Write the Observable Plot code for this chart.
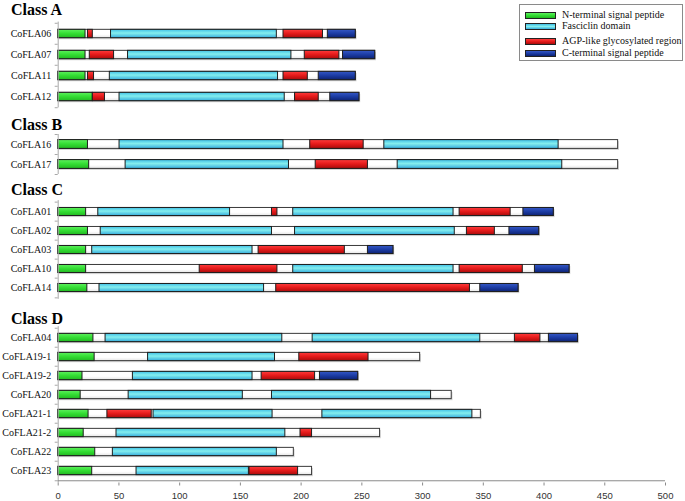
<!DOCTYPE html>
<html><head><meta charset="utf-8">
<script src="https://cdn.jsdelivr.net/npm/d3@7"></script>
<script src="https://cdn.jsdelivr.net/npm/@observablehq/plot@0.6"></script>
<style>
body{margin:0;background:#fff;}
#wrap{position:relative;width:685px;height:501px;overflow:hidden;background:#fff;}
.title{position:absolute;left:11px;font:bold 16px "Liberation Serif",serif;line-height:16px;color:#000;white-space:nowrap;}
.chart{position:absolute;left:0;}
#legend{position:absolute;left:519px;top:4px;width:164px;height:57px;border:1px solid #8a8a8a;box-sizing:border-box;background:#fff;}
.li{position:absolute;left:0;height:12px;width:160px;}
.sw{position:absolute;left:5px;top:3px;width:29px;height:5px;border:1px solid #222;}
.lt{position:absolute;left:42px;top:0;font:10px "Liberation Serif",serif;line-height:12px;color:#111;white-space:nowrap;}
</style></head>
<body>
<svg width="0" height="0" style="position:absolute">
<defs>
<linearGradient id="gGreen" x1="0" y1="0" x2="0" y2="1"><stop offset="0" stop-color="#5ef05e"/><stop offset="0.5" stop-color="#33dd33"/><stop offset="1" stop-color="#22b822"/></linearGradient>
<linearGradient id="gCyan" x1="0" y1="0" x2="0" y2="1"><stop offset="0" stop-color="#3fbfe6"/><stop offset="0.45" stop-color="#84eeee"/><stop offset="1" stop-color="#36acdc"/></linearGradient>
<linearGradient id="gRed" x1="0" y1="0" x2="0" y2="1"><stop offset="0" stop-color="#ff3c3c"/><stop offset="0.5" stop-color="#e41a1a"/><stop offset="1" stop-color="#a90c0c"/></linearGradient>
<linearGradient id="gBlue" x1="0" y1="0" x2="0" y2="1"><stop offset="0" stop-color="#3558c6"/><stop offset="0.5" stop-color="#1c3ca4"/><stop offset="1" stop-color="#0d2272"/></linearGradient>
<linearGradient id="gWhite" x1="0" y1="0" x2="0" y2="1"><stop offset="0" stop-color="#ffffff"/><stop offset="0.6" stop-color="#ffffff"/><stop offset="1" stop-color="#e6e6e6"/></linearGradient>
</defs></svg>
<div id="wrap"></div>
<script>
// ---- data ----
const classTitles = ["Class A", "Class B", "Class C", "Class D"];
const classA = ["CoFLA06", "CoFLA07", "CoFLA11", "CoFLA12"];
const classB = ["CoFLA16", "CoFLA17"];
const classC = ["CoFLA01", "CoFLA02", "CoFLA03", "CoFLA10", "CoFLA14"];
const classD = ["CoFLA04", "CoFLA19-1", "CoFLA19-2", "CoFLA20", "CoFLA21-1", "CoFLA21-2", "CoFLA22", "CoFLA23"];

const proteinLength = [
  ["CoFLA06", 245], ["CoFLA07", 261], ["CoFLA11", 245], ["CoFLA12", 248],
  ["CoFLA16", 461], ["CoFLA17", 461],
  ["CoFLA01", 408], ["CoFLA02", 396], ["CoFLA03", 276], ["CoFLA10", 421], ["CoFLA14", 379],
  ["CoFLA04", 428], ["CoFLA19-1", 298], ["CoFLA19-2", 247], ["CoFLA20", 324],
  ["CoFLA21-1", 348], ["CoFLA21-2", 265], ["CoFLA22", 194], ["CoFLA23", 209]
];

const nTerminal = [
  ["CoFLA06", 0, 22.5], ["CoFLA07", 0, 22.5], ["CoFLA11", 0, 22.5], ["CoFLA12", 0, 28.5],
  ["CoFLA16", 0, 24.5], ["CoFLA17", 0, 25.5],
  ["CoFLA01", 0, 23], ["CoFLA02", 0, 24.5], ["CoFLA03", 0, 23], ["CoFLA10", 0, 23], ["CoFLA14", 0, 24],
  ["CoFLA04", 0, 29], ["CoFLA19-1", 0, 30], ["CoFLA19-2", 0, 20], ["CoFLA20", 0, 18.5],
  ["CoFLA21-1", 0, 25], ["CoFLA21-2", 0, 21], ["CoFLA22", 0, 30.5], ["CoFLA23", 0, 28]
];

const fasciclin = [
  ["CoFLA06", 43.5, 180], ["CoFLA07", 57.5, 192], ["CoFLA11", 42.5, 181], ["CoFLA12", 50.5, 186.5],
  ["CoFLA16", 50.5, 185.5], ["CoFLA16", 268.5, 412], ["CoFLA17", 55.5, 190], ["CoFLA17", 279.5, 415],
  ["CoFLA01", 33, 141.5], ["CoFLA01", 193.5, 325.5], ["CoFLA02", 35, 176], ["CoFLA02", 195, 326.5],
  ["CoFLA03", 28, 160], ["CoFLA10", 193.5, 325.5], ["CoFLA14", 34, 169.5],
  ["CoFLA04", 39, 184.5], ["CoFLA04", 209.5, 347.5], ["CoFLA19-1", 74, 178.5], ["CoFLA19-2", 61.5, 160],
  ["CoFLA20", 58, 152], ["CoFLA20", 176, 307], ["CoFLA21-1", 78.5, 176.5], ["CoFLA21-1", 217.5, 341],
  ["CoFLA21-2", 48, 187], ["CoFLA22", 45, 180], ["CoFLA23", 64.5, 157]
];

const agpRegion = [
  ["CoFLA06", 24.5, 28.5], ["CoFLA06", 185.5, 218], ["CoFLA07", 26, 46], ["CoFLA07", 203, 231.5],
  ["CoFLA11", 24.5, 29.5], ["CoFLA11", 185.5, 205.5], ["CoFLA12", 28.5, 38.5], ["CoFLA12", 195, 214.5],
  ["CoFLA16", 207.5, 251.5], ["CoFLA17", 212, 255],
  ["CoFLA01", 176, 180.5], ["CoFLA01", 330.5, 372.5], ["CoFLA02", 336.5, 359.5], ["CoFLA03", 165, 236],
  ["CoFLA10", 116.5, 180.5], ["CoFLA10", 330.5, 382.5], ["CoFLA14", 179.5, 339],
  ["CoFLA04", 376, 397], ["CoFLA19-1", 198.5, 255.5], ["CoFLA19-2", 167.5, 211.5],
  ["CoFLA21-1", 40.5, 77], ["CoFLA21-2", 199.5, 209], ["CoFLA23", 157.5, 197.5]
];

const cTerminal = [
  ["CoFLA06", 222, 245], ["CoFLA07", 234.5, 261], ["CoFLA11", 214.5, 245], ["CoFLA12", 224, 248],
  ["CoFLA01", 383, 408], ["CoFLA02", 371.5, 396], ["CoFLA03", 255, 276], ["CoFLA10", 392.5, 421], ["CoFLA14", 347.5, 379],
  ["CoFLA04", 404, 428], ["CoFLA19-2", 215.5, 247]
];

const legendLabels = ["N-terminal signal peptide", "Fasciclin domain", "AGP-like glycosylated region", "C-terminal signal peptide"];
const xTicks = [0, 50, 100, 150, 200, 250, 300, 350, 400, 450, 500];

// ---- build ----
const segTypes = [
  {rows: nTerminal, fill: "url(#gGreen)", css: "linear-gradient(#5ef05e,#33dd33,#22b822)"},
  {rows: fasciclin, fill: "url(#gCyan)", css: "linear-gradient(#3fbfe6,#84eeee,#36acdc)"},
  {rows: agpRegion, fill: "url(#gRed)", css: "linear-gradient(#ff3c3c,#e41a1a,#a90c0c)"},
  {rows: cTerminal, fill: "url(#gBlue)", css: "linear-gradient(#3558c6,#1c3ca4,#0d2272)"}
];
const lengthTable = proteinLength.map(([protein, length]) => ({protein, length}));
const toSeg = (rows) => rows.map(([protein, start, end]) => ({protein, start, end}));

const wrap = document.getElementById("wrap");
const W = 685, ML = 57.7, MR = 20;
const barH = 8.8;
const tickLen = 3 / ((W - ML - MR) / 500);

const layout = [
  {title: 1.5, top: 20, height: 90, mt: 1.6, mb: 2.6},
  {title: 117.2, top: 132, height: 44, mt: 2, mb: 2},
  {title: 182.2, top: 198, height: 103, mt: 2.1, mb: 2.2},
  {title: 310.6, top: 324, height: 177, mt: 2.2, mb: 18.5}
];
const groups = [classA, classB, classC, classD];

groups.forEach((rows, gi) => {
  const L = layout[gi];
  const last = gi === groups.length - 1;
  const t = document.createElement("div");
  t.className = "title";
  t.style.top = L.title + "px";
  t.textContent = classTitles[gi];
  wrap.appendChild(t);

  const step = (L.height - L.mt - L.mb) / rows.length;
  const inset = (step - barH) / 2;
  const lens = lengthTable.filter(d => rows.includes(d.protein));
  const marks = [
    Plot.barX(lens, {y: "protein", x1: 0, x2: "length", fill: "#000", fillOpacity: 0.16, insetTop: inset, insetBottom: inset, dx: 1.3, dy: 1.6}),
    Plot.barX(lens, {y: "protein", x1: 0, x2: "length", fill: "url(#gWhite)", stroke: "#3a3a3a", strokeWidth: 1, insetTop: inset, insetBottom: inset}),
    ...segTypes.map(s => Plot.barX(toSeg(s.rows).filter(d => rows.includes(d.protein)),
      {y: "protein", x1: "start", x2: "end", fill: s.fill, stroke: "#1e1e1e", strokeWidth: 1, insetTop: inset, insetBottom: inset})),
    Plot.ruleX([0], {stroke: "#a8a8a8", strokeWidth: 1}),
    Plot.ruleY(rows, {y: d => d, x1: -tickLen, x2: 0, dy: -step / 2, stroke: "#a8a8a8"}),
    Plot.ruleY([rows[rows.length - 1]], {y: d => d, x1: -tickLen, x2: 0, dy: step / 2, stroke: "#a8a8a8"}),
    Plot.axisY({tickSize: 0, tickPadding: 7, label: null, fontFamily: "Liberation Serif", fontSize: 10, fill: "#111"})
  ];
  if (last) {
    marks.push(Plot.ruleY([rows[rows.length - 1]], {y: d => d, x1: 0, x2: 500, dy: step / 2, stroke: "#8a8a8a"}));
    marks.push(Plot.axisX({ticks: xTicks, tickSize: 3, tickPadding: 6.5, label: null, stroke: "#8a8a8a", fontFamily: "Liberation Sans", fontSize: 9.5, fill: "#333"}));
  }
  const svg = Plot.plot({
    width: W, height: L.height,
    marginLeft: ML, marginRight: MR, marginTop: L.mt, marginBottom: L.mb,
    x: {domain: [0, 500], axis: null},
    y: {domain: rows, padding: 0, axis: null},
    style: {background: "transparent", fontFamily: "Liberation Serif", overflow: "visible"},
    marks
  });
  svg.classList.add("chart");
  svg.style.position = "absolute";
  svg.style.top = L.top + "px";
  svg.style.left = "0px";
  wrap.appendChild(svg);
});

// legend
const lg = document.createElement("div");
lg.id = "legend";
const itemTops = [4.3, 15, 30, 41.7];
legendLabels.forEach((lab, i) => {
  const it = document.createElement("div");
  it.className = "li";
  it.style.top = itemTops[i] + "px";
  const sw = document.createElement("div");
  sw.className = "sw";
  sw.style.background = segTypes[i].css;
  const tx = document.createElement("div");
  tx.className = "lt";
  tx.textContent = lab;
  it.appendChild(sw); it.appendChild(tx);
  lg.appendChild(it);
});
wrap.appendChild(lg);
</script>
</body></html>
